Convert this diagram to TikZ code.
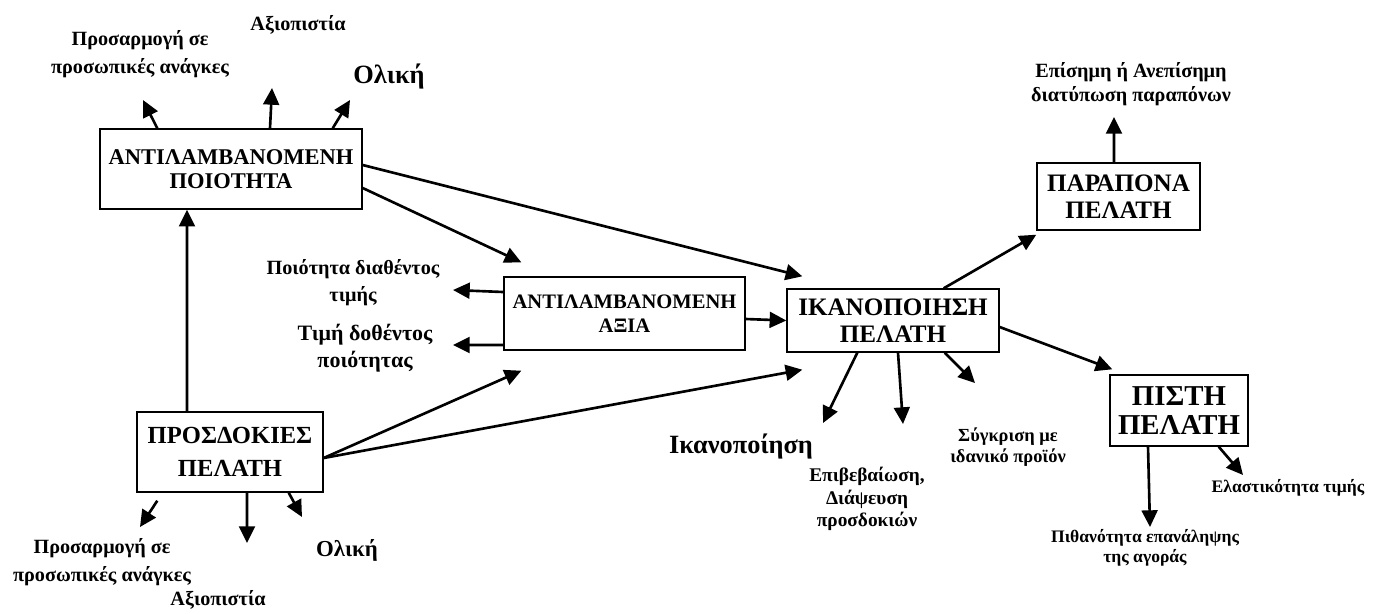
\documentclass[tikz,border=0pt]{standalone}
\usepackage{fontspec}
\setmainfont{Liberation Serif}[BoldFont={Liberation Serif Bold}]
\usetikzlibrary{arrows.meta}
\newcommand{\bsz}[2]{\bfseries\fontsize{#1}{#2}\selectfont}

\begin{document}
\begin{tikzpicture}[x=0.02cm, y=-0.02cm,
  box/.style={draw, line width=0.8pt, align=center, inner sep=0pt},
  lbl/.style={align=center, inner sep=0pt},
  arr/.style={-{Triangle[length=9.5pt,width=9pt]}, line width=1.5pt}
]
\useasboundingbox (0,0) rectangle (1388,613);

% boxes
\node[box, minimum width=5.24cm, minimum height=1.6cm, font=\bsz{12.8}{14}] (quality) at (231,169) {ΑΝΤΙΛΑΜΒΑΝΟΜΕΝΗ\\ΠΟΙΟΤΗΤΑ};
\node[box, minimum width=4.82cm, minimum height=1.46cm, font=\bsz{11.7}{13.5}] (value) at (624.5,313.5) {ΑΝΤΙΛΑΜΒΑΝΟΜΕΝΗ\\ΑΞΙΑ};
\node[box, minimum width=4.24cm, minimum height=1.26cm, font=\bsz{14.3}{15}] (satisf) at (893,320.5) {ΙΚΑΝΟΠΟΙΗΣΗ\\ΠΕΛΑΤΗ};
\node[box, minimum width=3.26cm, minimum height=1.34cm, font=\bsz{14.3}{15.3}] (complain) at (1118.5,196.5) {ΠΑΡΑΠΟΝΑ\\ΠΕΛΑΤΗ};
\node[box, minimum width=2.76cm, minimum height=1.42cm, font=\bsz{16.4}{16.5}] (loyal) at (1179,410.5) {ΠΙΣΤΗ\\ΠΕΛΑΤΗ};
\node[box, minimum width=3.72cm, minimum height=1.6cm, font=\bsz{14}{18.7}] (expect) at (230,452) {ΠΡΟΣΔΟΚΙΕΣ\\ΠΕΛΑΤΗ};

% labels
\node[lbl, font=\bsz{11.5}{16}] (qadapt) at (140,54) {Προσαρμογή σε\\προσωπικές ανάγκες};
\node[lbl, font=\bsz{11.5}{14}] (qrel) at (298,25) {Αξιοπιστία};
\node[lbl, font=\bsz{15}{18}] (qall) at (389,77) {Ολική};
\node[lbl, font=\bsz{11.5}{15.3}] (vqual) at (353,283) {Ποιότητα διαθέντος\\τιμής};
\node[lbl, font=\bsz{12.5}{15.3}] (vprice) at (365,348) {Τιμή δοθέντος\\ποιότητας};
\node[lbl, font=\bsz{11.5}{16}] (eadapt) at (102,562) {Προσαρμογή σε\\προσωπικές ανάγκες};
\node[lbl, font=\bsz{11.5}{14}] (erel) at (218,600) {Αξιοπιστία};
\node[lbl, font=\bsz{13}{16}] (eall) at (347,550) {Ολική};
\node[lbl, font=\bsz{15}{18}] (ssat) at (741,446) {Ικανοποίηση};
\node[lbl, font=\bsz{11}{13}] (sconf) at (867,499) {Επιβεβαίωση,\\Διάψευση\\προσδοκιών};
\node[lbl, font=\bsz{10.5}{12}] (sideal) at (1008,447) {Σύγκριση με\\ιδανικό προϊόν};
\node[lbl, font=\bsz{11.5}{14}] (cform) at (1131,84) {Επίσημη ή Ανεπίσημη\\διατύπωση παραπόνων};
\node[lbl, font=\bsz{10}{11.3}] (lrep) at (1145,548) {Πιθανότητα επανάληψης\\της αγοράς};
\node[lbl, font=\bsz{10}{12}] (lela) at (1288,488) {Ελαστικότητα τιμής};

% arrow tips
\coordinate (qt1) at (143,100);
\coordinate (qt2) at (272,88);
\coordinate (qt3) at (350,100);
\coordinate (vt1) at (453,290);
\coordinate (vt2) at (453,345);
\coordinate (et1) at (140,527);
\coordinate (et2) at (247,543);
\coordinate (et3) at (302,517);
\coordinate (st1) at (823,423);
\coordinate (st2) at (903,424);
\coordinate (st3) at (975,383);
\coordinate (ct1) at (1114,117);
\coordinate (lt1) at (1150,527);
\coordinate (lt2) at (1243,475);

% connectors
\draw[arr] ([xshift=1.16cm]quality.north west) -- (qt1);
\draw[arr] ([xshift=0.78cm]quality.north) -- (qt2);
\draw[arr] ([xshift=-0.6cm]quality.north east) -- (qt3);
\draw[arr] ([yshift=0.08cm]quality.east) -- ([xshift=0.32cm,yshift=0.24cm]satisf.north west);
\draw[arr] ([yshift=-0.38cm]quality.east) -- ([xshift=0.36cm,yshift=0.28cm]value.north west);
\draw[arr] ([yshift=0.43cm]value.west) -- (vt1);
\draw[arr] ([yshift=-0.63cm]value.west) -- (vt2);
\draw[arr] ([yshift=-0.11cm]value.east) -- (satisf.west);
\draw[arr] ([xshift=-0.86cm]expect.north) -- ([xshift=-0.88cm]quality.south);
\draw[arr] ([yshift=-0.12cm]expect.east) -- ([xshift=0.36cm,yshift=-0.4cm]value.south west);
\draw[arr] ([yshift=-0.12cm]expect.east) -- ([xshift=0.32cm,yshift=-0.34cm]satisf.south west);
\draw[arr] ([xshift=0.42cm,yshift=-0.16cm]expect.south west) -- (et1);
\draw[arr] ([xshift=0.34cm]expect.south) -- (et2);
\draw[arr] ([xshift=-0.7cm]expect.south east) -- (et3);
\draw[arr] ([xshift=-1.12cm]satisf.north east) -- ([yshift=-0.08cm]complain.south west);
\draw[arr] ([xshift=-0.09cm]complain.north) -- (ct1);
\draw[arr] ([xshift=1.42cm]satisf.south west) -- (st1);
\draw[arr] ([xshift=0.1cm]satisf.south) -- (st2);
\draw[arr] ([xshift=-1.1cm]satisf.south east) -- (st3);
\draw[arr] ([yshift=-0.13cm]satisf.east) -- ([xshift=0.06cm,yshift=0.1cm]loyal.north west);
\draw[arr] ([xshift=-0.62cm]loyal.south) -- (lt1);
\draw[arr] ([xshift=-0.6cm]loyal.south east) -- (lt2);

\end{tikzpicture}
\end{document}
